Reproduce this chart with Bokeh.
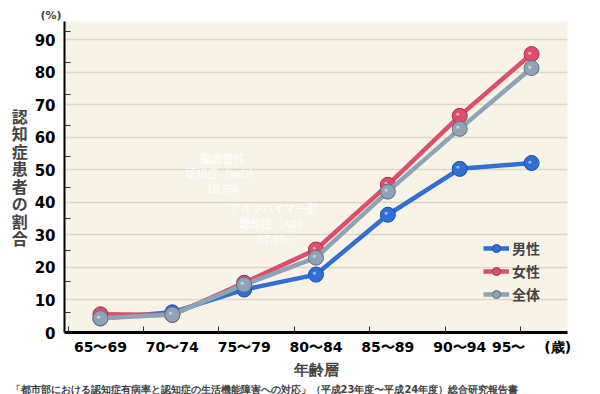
from bokeh.plotting import figure
from bokeh.models import FixedTicker, Label, Title, Range1d, ColumnDataSource, Legend, LegendItem
from bokeh.core.properties import value
from bokeh.embed import file_html
from bokeh.resources import INLINE

age_groups = ["65〜69", "70〜74", "75〜79", "80〜84", "85〜89", "90〜94", "95〜　 (歳)"]
male = [4.3, 6.2, 13.2, 17.8, 36.2, 50.3, 52.1]
female = [5.6, 5.4, 15.3, 25.5, 45.4, 66.6, 85.6]
overall = [4.4, 5.5, 14.7, 23.0, 43.3, 62.6, 81.3]
y_ticks = [0, 10, 20, 30, 40, 50, 60, 70, 80, 90]

xs = list(range(len(age_groups)))

p = figure(width=600, height=394, output_backend="svg", toolbar_location=None,
           x_range=Range1d(-0.5, 6.5), y_range=Range1d(0, 95.6),
           min_border_left=64, min_border_right=33, min_border_top=21, min_border_bottom=61)
p.background_fill_color = "#F7F3E7"
p.border_fill_color = "white"
p.outline_line_color = None

# axes
p.xaxis.ticker = FixedTicker(ticks=xs, minor_ticks=[-0.45, 0.6, 1.65, 2.7, 3.75, 4.8, 5.85])
p.xaxis.major_label_overrides = {i: s for i, s in enumerate(age_groups)}
p.xaxis.major_tick_line_color = None
p.xaxis.minor_tick_in = 6
p.xaxis.minor_tick_out = 0
p.xaxis.minor_tick_line_color = "#333333"
p.xaxis.axis_line_width = 3
p.xaxis.axis_line_color = "black"
p.xaxis.major_label_text_font = "DejaVu Sans"
p.xaxis.major_label_text_font_style = "bold"
p.xaxis.major_label_text_font_size = "14px"
p.xaxis.major_label_text_color = "black"
p.xaxis.major_label_standoff = 0
p.xaxis.axis_label = "年齢層"
p.xaxis.axis_label_text_font = "DejaVu Sans"
p.xaxis.axis_label_text_font_style = "bold"
p.xaxis.axis_label_text_font_size = "15px"
p.xaxis.axis_label_standoff = 3

p.yaxis.ticker = FixedTicker(ticks=y_ticks, minor_ticks=[6.1, 15.7, 25.3, 34.9, 44.5, 54.1, 63.7, 73.3, 82.9, 92.5])
p.yaxis.major_tick_line_color = None
p.yaxis.minor_tick_in = 6
p.yaxis.minor_tick_out = 0
p.yaxis.minor_tick_line_color = "#333333"
p.yaxis.axis_line_width = 2
p.yaxis.axis_line_color = "black"
p.yaxis.major_label_text_font = "DejaVu Sans"
p.yaxis.major_label_text_font_style = "bold"
p.yaxis.major_label_text_font_size = "15px"
p.yaxis.major_label_text_color = "black"
p.yaxis.major_label_standoff = 3
p.yaxis.axis_label = "\n".join("認知症患者の割合")
p.yaxis.axis_label_orientation = "horizontal"
p.yaxis.axis_label_text_font = "Noto Sans CJK JP"
p.yaxis.axis_label_text_font_style = "bold"
p.yaxis.axis_label_text_font_size = "16px"
p.yaxis.axis_label_text_line_height = 0.73
p.yaxis.axis_label_standoff = 4

p.xgrid.grid_line_color = None
p.ygrid.ticker = FixedTicker(ticks=y_ticks[1:])
p.ygrid.grid_line_color = "#DDD7C3"
p.ygrid.grid_line_width = 1.5

# series
series = [("男性", male, "#2F6FD6", "#1B4FA8"),
          ("女性", female, "#DE4D6E", "#A8304C"),
          ("全体", overall, "#8FA3B6", "#5E7286")]
items = []
for name, vals, col, dark in series:
    src = ColumnDataSource(dict(x=xs, y=vals))
    l = p.line("x", "y", source=src, line_color=col, line_width=4.5)
    c = p.scatter("x", "y", source=src, size=15, fill_color=col, line_color=dark, line_width=1)
    h = p.text("x", "y", source=src, text=value("●"), text_color="white", text_alpha=0.55,
               text_font_size="7px", x_offset=-2, y_offset=-2,
               text_align="center", text_baseline="middle")
    items.append(LegendItem(label=name, renderers=[l, c]))

legend = Legend(items=items, location=(419, 28), background_fill_alpha=0, border_line_color=None,
                label_text_font="Noto Sans CJK JP", label_text_font_style="bold",
                label_text_font_size="14px", glyph_width=26, spacing=3, label_standoff=3,
                padding=0, margin=0)
p.add_layout(legend, "center")

# annotations
def note(lines, x, y):
    for i, t in enumerate(lines):
        p.add_layout(Label(x=x, y=y, y_offset=-15 * i, text=t, text_color="white",
                           text_font="Noto Sans CJK JP", text_font_size="11px",
                           text_align="center", text_baseline="middle"))

note(["脳血管性", "認知症（VaD）", "19.5%"], 1.70, 53.6)
note(["アルツハイマー型", "認知症（AD）", "67.6%"], 2.41, 38.3)

unit_title = Title(text="(%)", align="left", offset=-24, text_font="DejaVu Sans",
                   text_font_size="11px", text_font_style="bold", standoff=0)
p.add_layout(unit_title, "above")

src_title = Title(text="「都市部における認知症有病率と認知症の生活機能障害への対応」（平成23年度〜平成24年度）総合研究報告書",
                  align="left", offset=-54, text_font="DejaVu Sans", text_font_size="10px",
                  text_font_style="bold", standoff=0)
p.add_layout(src_title, "below")

open("out.html", "w").write(file_html(p, INLINE))
